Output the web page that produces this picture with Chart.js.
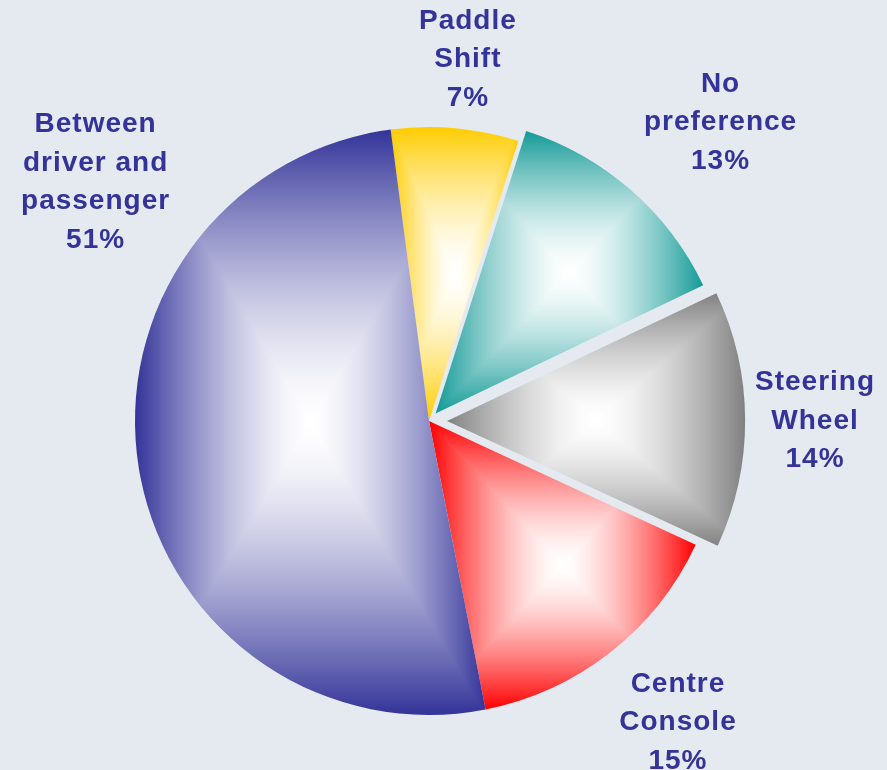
<!DOCTYPE html>
<html>
<head>
<meta charset="utf-8">
<script src="https://cdn.jsdelivr.net/npm/chart.js@4.4.1/dist/chart.umd.min.js"></script>
<style>
  html, body { margin: 0; padding: 0; background: #e5eaf0; }
  #wrap { width: 887px; height: 770px; }
</style>
</head>
<body>
<div id="wrap"><canvas id="pie"></canvas></div>
<script>
const categories = [['Paddle', 'Shift'], ['No', 'preference'], ['Steering', 'Wheel'], ['Centre', 'Console'], ['Between', 'driver and', 'passenger']];
const shares = [7, 13, 14, 15, 51];
const sliceColors = ['#ffcc00', '#139a97', '#808080', '#ff0000', '#333399'];
const explode = [0, 40, 72, 0, 0];

// label placement per slice: [angle shift in degrees, distance as fraction of radius]
const labelPlace = [[1, 1.245], [3, 1.425], [-0.1, 1.313], [-1.7, 1.323], [45.2, 1.40]];

function hexToRgb(hex) {
  const n = parseInt(hex.slice(1), 16);
  return [(n >> 16) & 255, (n >> 8) & 255, n & 255];
}

// white centre fading out to the slice colour at the edges of its bounding box
function rectGradient(ctx, arc, color, offset) {
  const s = arc.startAngle, e = arc.endAngle;
  const R = arc.outerRadius + (offset / 4) * (1 - Math.sin(Math.min(Math.PI, e - s)));
  const pts = [[0, 0], [R * Math.cos(s), R * Math.sin(s)], [R * Math.cos(e), R * Math.sin(e)]];
  for (let k = Math.ceil(s / (Math.PI / 2)); k * Math.PI / 2 < e; k++) {
    const a = k * Math.PI / 2;
    pts.push([R * Math.cos(a), R * Math.sin(a)]);
  }
  const xs = pts.map(p => p[0]), ys = pts.map(p => p[1]);
  const x0 = Math.min(...xs), x1 = Math.max(...xs), y0 = Math.min(...ys), y1 = Math.max(...ys);
  const pad = 3;
  const w = Math.ceil(x1 - x0) + pad * 2, h = Math.ceil(y1 - y0) + pad * 2;
  const off = document.createElement('canvas');
  off.width = w; off.height = h;
  const octx = off.getContext('2d');
  const img = octx.createImageData(w, h);
  const cx = (x0 + x1) / 2, cy = (y0 + y1) / 2;
  const hw = (x1 - x0) / 2, hh = (y1 - y0) / 2;
  const rgb = hexToRgb(color);
  for (let j = 0; j < h; j++) {
    for (let i = 0; i < w; i++) {
      const px = x0 - pad + i + 0.5, py = y0 - pad + j + 0.5;
      let t = Math.max(Math.abs(px - cx) / hw, Math.abs(py - cy) / hh);
      t = Math.pow(Math.min(t, 1), 1.5);
      const k = (j * w + i) * 4;
      img.data[k] = 255 + (rgb[0] - 255) * t;
      img.data[k + 1] = 255 + (rgb[1] - 255) * t;
      img.data[k + 2] = 255 + (rgb[2] - 255) * t;
      img.data[k + 3] = 255;
    }
  }
  octx.putImageData(img, 0, 0);
  const pat = ctx.createPattern(off, 'no-repeat');
  pat.setTransform(new DOMMatrix([1, 0, 0, 1, arc.x + x0 - pad, arc.y + y0 - pad]));
  return pat;
}

const shadeSlices = {
  id: 'shadeSlices',
  beforeDatasetsDraw(chart) {
    const meta = chart.getDatasetMeta(0);
    meta.data.forEach((arc, i) => {
      const pat = rectGradient(chart.ctx, arc, sliceColors[i], explode[i]);
      arc.options = Object.assign({}, arc.options, { backgroundColor: pat });
    });
  }
};

const sliceLabels = {
  id: 'sliceLabels',
  afterDatasetsDraw(chart) {
    const ctx = chart.ctx;
    const meta = chart.getDatasetMeta(0);
    ctx.save();
    ctx.fillStyle = '#333399';
    ctx.font = 'bold 28px "Liberation Sans", Arial, sans-serif';
    ctx.letterSpacing = '1px';
    ctx.textAlign = 'center';
    ctx.textBaseline = 'middle';
    meta.data.forEach((arc, i) => {
      const [shift, dist] = labelPlace[i];
      const a = (arc.startAngle + arc.endAngle) / 2 + shift * Math.PI / 180;
      const r = arc.outerRadius * dist;
      const x = arc.x + Math.cos(a) * r, y = arc.y + Math.sin(a) * r + 2.5;
      const lines = categories[i].concat(shares[i] + '%');
      lines.forEach((line, k) => ctx.fillText(line, x, y + (k - (lines.length - 1) / 2) * 38.5));
    });
    ctx.restore();
  }
};

new Chart(document.getElementById('pie'), {
  type: 'pie',
  data: {
    labels: categories.map(c => c.join(' ')),
    datasets: [{
      data: shares,
      backgroundColor: sliceColors,
      borderWidth: 0,
      offset: explode,
      hoverOffset: 0
    }]
  },
  options: {
    responsive: true,
    maintainAspectRatio: false,
    animation: false,
    events: [],
    rotation: -7.5,
    layout: { padding: { left: 99, right: 128, top: 91, bottom: 19 } },
    plugins: { legend: { display: false }, tooltip: { enabled: false } }
  },
  plugins: [shadeSlices, sliceLabels]
});
</script>
</body>
</html>
